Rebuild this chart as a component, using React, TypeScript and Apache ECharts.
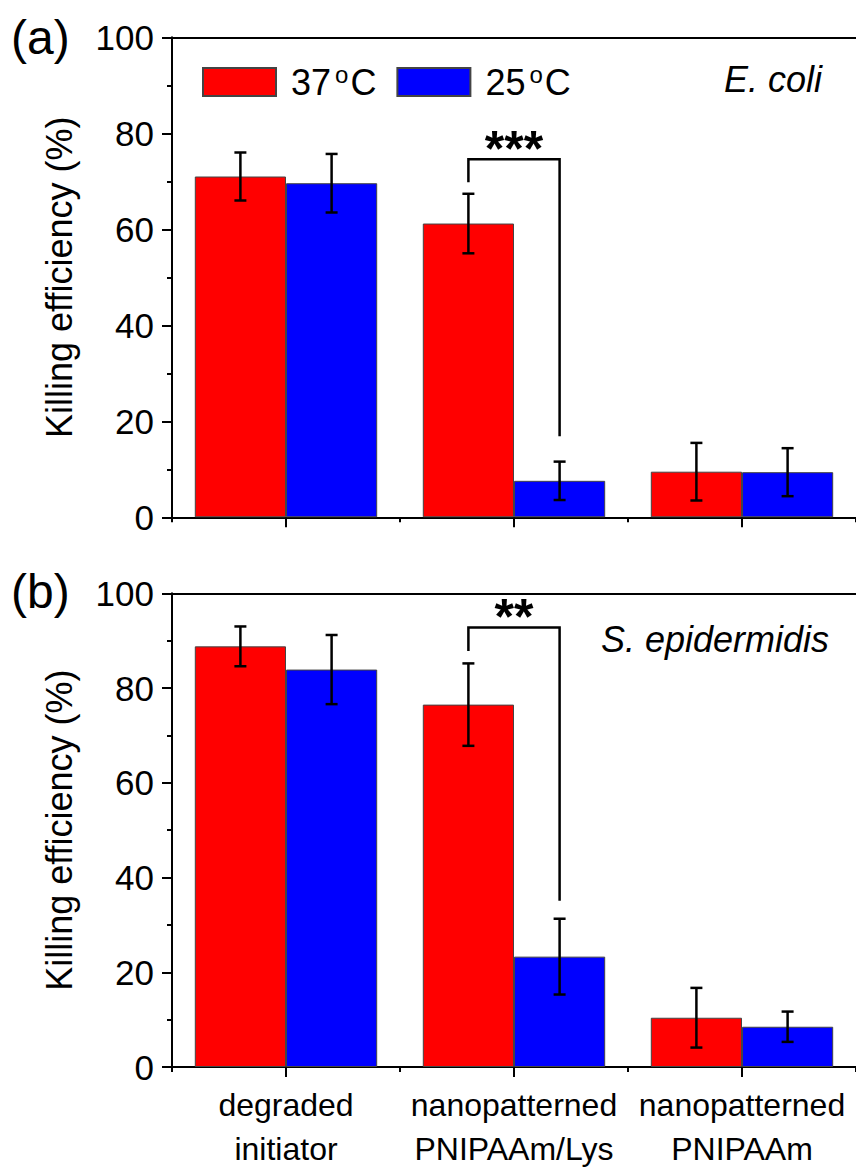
import React, { useEffect, useRef } from "react";
import * as echarts from "echarts";

const categories = ["degraded\ninitiator", "nanopatterned\nPNIPAAm/Lys", "nanopatterned\nPNIPAAm"];
const seriesNames = ["37 °C", "25 °C"];
const yTicks = { min: 0, max: 100, interval: 20 };

// (a) E. coli
const ecoli37 = [71, 61.2, 9.5];
const ecoli37Err = [5, 6.2, 6];
const ecoli25 = [69.6, 7.6, 9.4];
const ecoli25Err = [6.1, 4, 5];
// (b) S. epidermidis
const sepi37 = [88.8, 76.5, 10.4];
const sepi37Err = [4.2, 8.7, 6.3];
const sepi25 = [83.9, 23.3, 8.5];
const sepi25Err = [7.3, 8, 3.2];

// significance brackets: [category, left leg bottom, bracket top, right leg bottom]
const bracketA = [1, 69.8, 74.6, 16.9];
const bracketB = [1, 87.8, 92.8, 35.1];
const starsA = "***";
const starsB = "**";
const panelLabels = ["(a)", "(b)"];
const speciesLabels = ["E. coli", "S. epidermidis"];

const FONT = "Liberation Sans, Arial, sans-serif";
const RED = "#ff0000";
const BLUE = "#0000ff";

export default function App() {
  const ref = useRef<HTMLDivElement>(null);
  useEffect(() => {
    document.body.style.margin = "0";
    const chart = echarts.init(ref.current!, null, { renderer: "svg" });
    const grids = [
      { left: 172, top: 37.3, width: 685, height: 480 },
      { left: 172, top: 593.3, width: 685, height: 480 },
    ];
    const axisLine = { show: true, lineStyle: { color: "#000", width: 2 } };
    const xAxes: any[] = [];
    const yAxes: any[] = [];
    [0, 1].forEach((g) => {
      xAxes.push({
        type: "category", gridIndex: g, data: categories, position: "bottom",
        axisLine, axisTick: { show: true, alignWithLabel: true, length: 10, lineStyle: { color: "#000", width: 2 } },
        axisLabel: g === 1 ? { show: true, fontFamily: FONT, fontSize: 32, color: "#000", lineHeight: 44, margin: 16, interval: 0 } : { show: false },
        splitLine: { show: false },
      });
      xAxes.push({
        type: "category", gridIndex: g, data: categories, position: "bottom",
        axisLine: { show: false }, axisTick: { show: true, length: 5, lineStyle: { color: "#000", width: 2 } },
        axisLabel: { show: false }, splitLine: { show: false },
      });
      xAxes.push({
        type: "category", gridIndex: g, data: categories, position: "top",
        axisLine, axisTick: { show: false }, axisLabel: { show: false }, splitLine: { show: false },
      });
      yAxes.push({
        type: "value", gridIndex: g, min: yTicks.min, max: yTicks.max, interval: yTicks.interval,
        name: "Killing efficiency (%)", nameLocation: "middle", nameGap: 95,
        nameTextStyle: { fontFamily: FONT, fontSize: 36, color: "#000" },
        axisLine, axisTick: { show: true, length: 10, lineStyle: { color: "#000", width: 2 } },
        minorTick: { show: true, splitNumber: 2, length: 5, lineStyle: { color: "#000", width: 2 } },
        axisLabel: { fontFamily: FONT, fontSize: 35, color: "#000", margin: 18 },
        splitLine: { show: false },
      });
    });

    const barSeries = (name: string, color: string, data: number[], g: number) => ({
      type: "bar", name, xAxisIndex: g * 3, yAxisIndex: g, data,
      barGap: "0%", barCategoryGap: "20%",
      itemStyle: { color, borderColor: "#444", borderWidth: 1 },
    });

    const errSeries = (means: number[], errs: number[], side: number, g: number) => ({
      type: "custom", xAxisIndex: g * 3, yAxisIndex: g, z: 10,
      encode: { x: 0, y: 1 },
      data: means.map((m, i) => [i, m, errs[i]]),
      renderItem: (params: any, api: any) => {
        const i = api.value(0), m = api.value(1), e = api.value(2);
        const w = api.size([1, 0])[0];
        const c = api.coord([i, m]);
        const x = c[0] + side * w * 0.2;
        const top = api.coord([i, m + e])[1];
        const bot = api.coord([i, m - e])[1];
        const st = { stroke: "#000", lineWidth: 2.5 };
        return {
          type: "group",
          children: [
            { type: "line", shape: { x1: x, y1: top, x2: x, y2: bot }, style: st },
            { type: "line", shape: { x1: x - 6, y1: top, x2: x + 6, y2: top }, style: st },
            { type: "line", shape: { x1: x - 6, y1: bot, x2: x + 6, y2: bot }, style: st },
          ],
        };
      },
    });

    const bracketSeries = (b: number[], stars: string, g: number) => ({
      type: "custom", xAxisIndex: g * 3, yAxisIndex: g, z: 10,
      encode: { x: 0, y: 2 },
      data: [b],
      renderItem: (params: any, api: any) => {
        const i = api.value(0);
        const w = api.size([1, 0])[0];
        const cx = api.coord([i, 0])[0];
        const xl = cx - w * 0.2, xr = cx + w * 0.2;
        const yl = api.coord([i, api.value(1)])[1];
        const yt = api.coord([i, api.value(2)])[1];
        const yr = api.coord([i, api.value(3)])[1];
        return {
          type: "group",
          children: [
            { type: "polyline", shape: { points: [[xl, yl], [xl, yt], [xr, yt], [xr, yr]] }, style: { stroke: "#000", lineWidth: 2.5, fill: null } },
            { type: "text", x: (xl + xr) / 2, y: yt - 10, style: { text: stars, fontFamily: FONT, fontSize: 50, fontWeight: "bold", fill: "#000", align: "center", verticalAlign: "middle" } },
          ],
        };
      },
    });

    chart.setOption({
      animation: false,
      grid: grids,
      xAxis: xAxes,
      yAxis: yAxes,
      legend: {
        data: seriesNames, left: 202, top: 62, padding: 0, itemWidth: 73, itemHeight: 28, itemGap: 20,
        icon: "rect",
        formatter: (n: string) => `{n|${n.split(" ")[0]}}{s|o}{n|C}`,
        textStyle: {
          fontFamily: FONT, color: "#000", padding: [0, 0, 0, 10],
          rich: {
            n: { fontFamily: FONT, fontSize: 36, lineHeight: 40, color: "#000" },
            s: { fontFamily: FONT, fontSize: 24, lineHeight: 40, verticalAlign: "top", color: "#000", padding: [0, 2, 6, 4] },
          },
        },
      },
      graphic: [
        { type: "text", left: 11, top: 13, style: { text: panelLabels[0], fontFamily: FONT, fontSize: 48, fill: "#000" } },
        { type: "text", left: 11, top: 567, style: { text: panelLabels[1], fontFamily: FONT, fontSize: 48, fill: "#000" } },
        { type: "text", right: 34, top: 61, style: { text: speciesLabels[0], fontFamily: FONT, fontSize: 36, fontStyle: "italic", fill: "#000" } },
        { type: "text", right: 27, top: 621, style: { text: speciesLabels[1], fontFamily: FONT, fontSize: 36, fontStyle: "italic", fill: "#000" } },
      ],
      series: [
        barSeries(seriesNames[0], RED, ecoli37, 0),
        barSeries(seriesNames[1], BLUE, ecoli25, 0),
        barSeries(seriesNames[0], RED, sepi37, 1),
        barSeries(seriesNames[1], BLUE, sepi25, 1),
        errSeries(ecoli37, ecoli37Err, -1, 0),
        errSeries(ecoli25, ecoli25Err, 1, 0),
        errSeries(sepi37, sepi37Err, -1, 1),
        errSeries(sepi25, sepi25Err, 1, 1),
        bracketSeries(bracketA, starsA, 0),
        bracketSeries(bracketB, starsB, 1),
      ],
    });
    return () => chart.dispose();
  }, []);
  return <div ref={ref} style={{ position: "absolute", left: 0, top: 0, width: 856, height: 1171 }} />;
}
